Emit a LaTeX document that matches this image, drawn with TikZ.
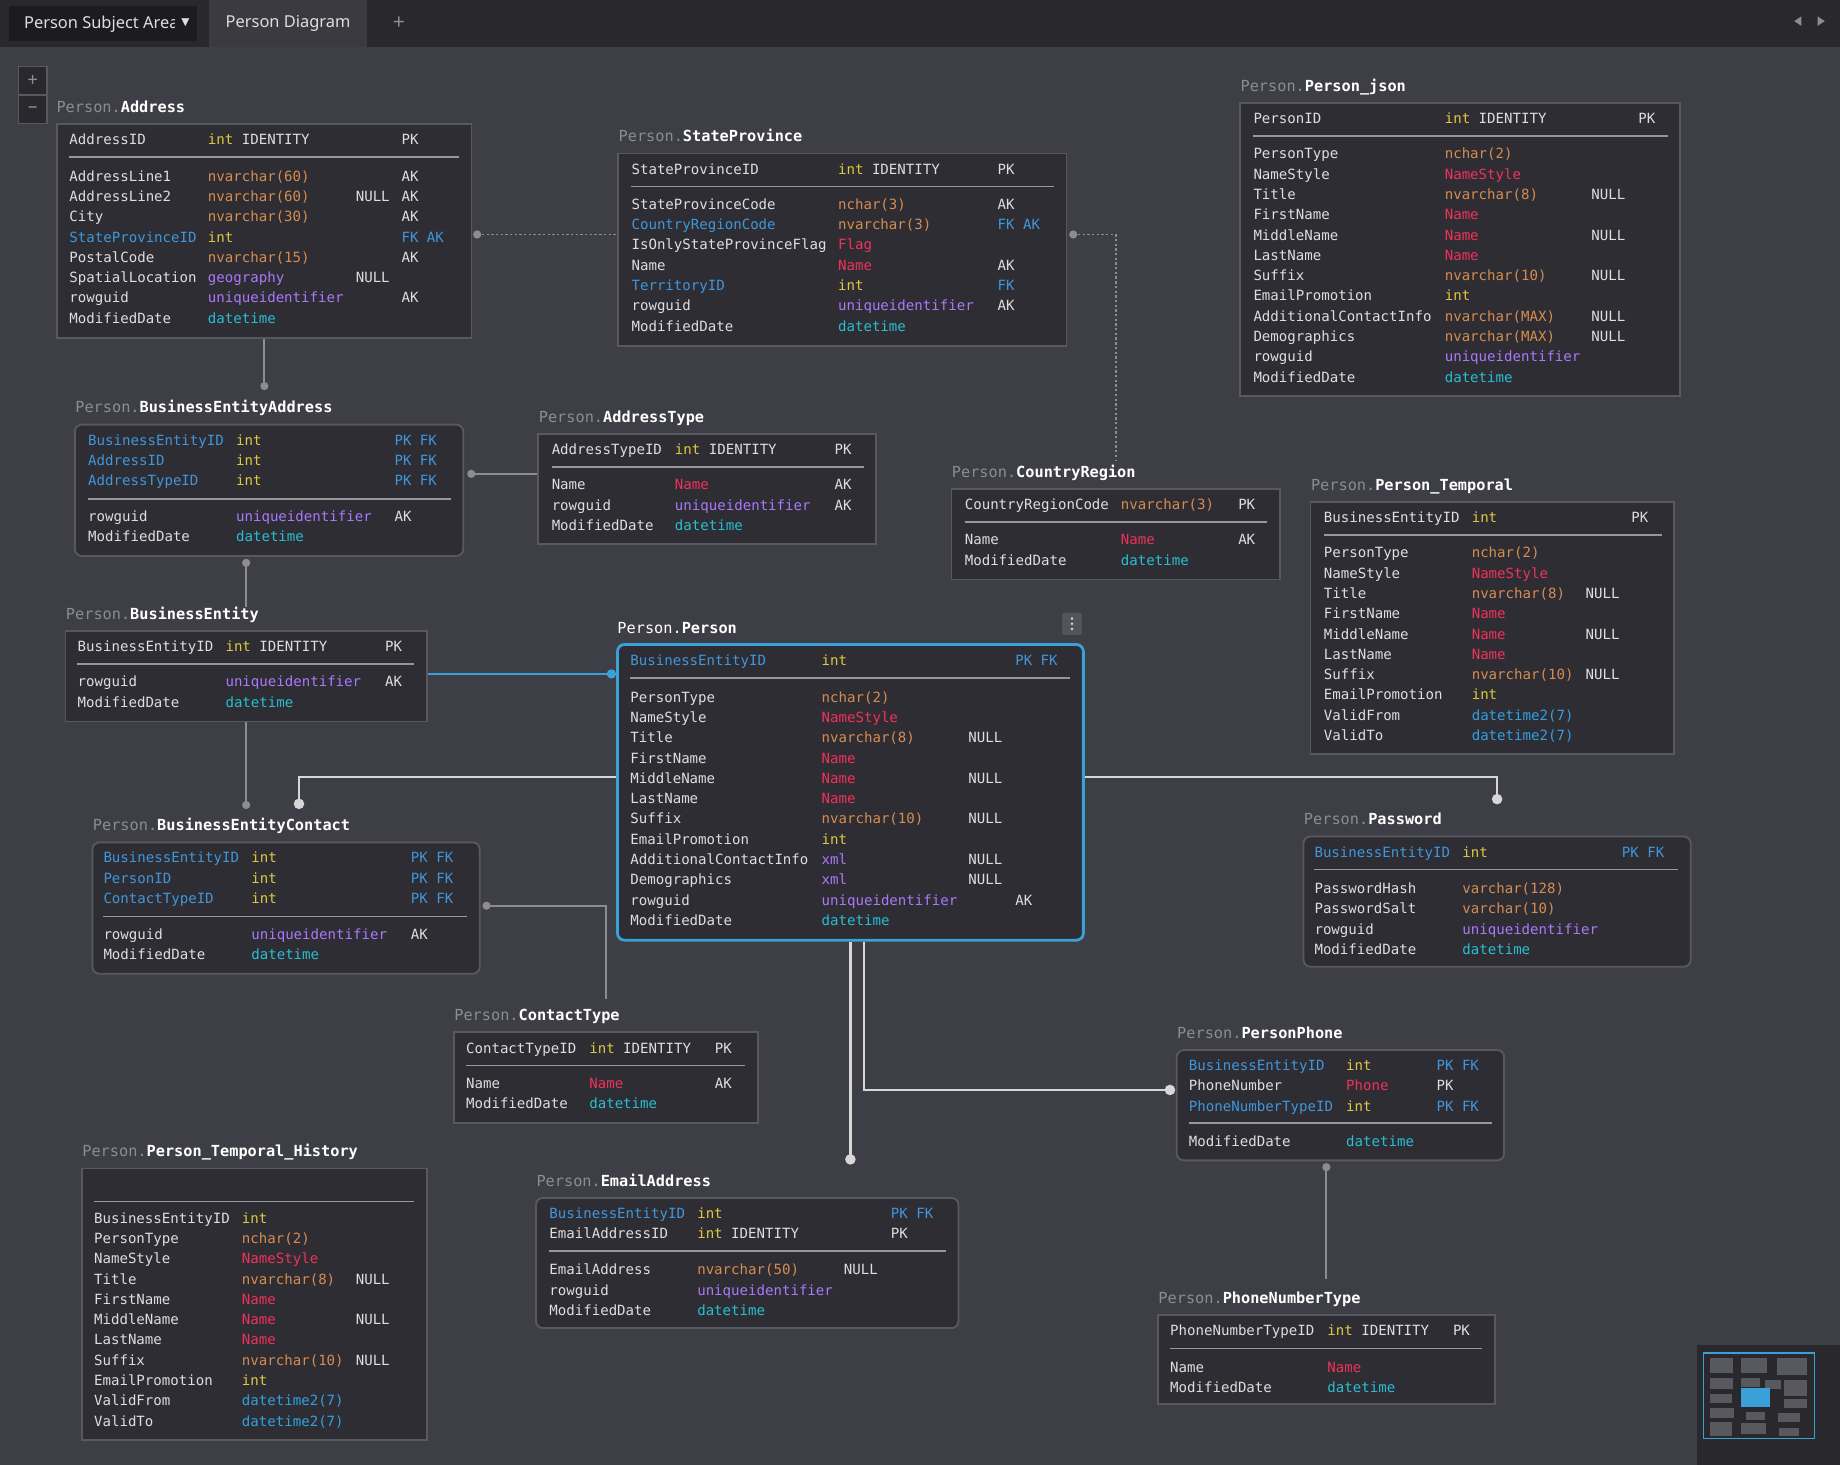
\documentclass[tikz,border=0pt]{standalone}
\usepackage{fontspec}
\setmainfont{Noto Sans}
\setmonofont{DejaVu Sans Mono}
\newfontfamily\symfont{DejaVu Sans}

\definecolor{canvas}{RGB}{62,62,70}
\definecolor{tabbar}{RGB}{40,40,45}
\definecolor{tabact}{RGB}{58,58,64}
\definecolor{ddbox}{RGB}{28,28,32}
\definecolor{btnc}{RGB}{84,84,92}
\definecolor{boxfill}{RGB}{45,45,51}
\definecolor{boxline}{RGB}{88,88,95}
\definecolor{rulec}{RGB}{150,150,155}
\definecolor{linkc}{RGB}{140,140,146}
\definecolor{hotc}{RGB}{215,215,215}
\definecolor{selblue}{RGB}{58,160,216}
\definecolor{txt}{RGB}{222,222,222}
\definecolor{kpre}{RGB}{140,140,148}
\definecolor{kfk}{RGB}{64,150,220}
\definecolor{kint}{RGB}{222,200,64}
\definecolor{kchar}{RGB}{214,140,80}
\definecolor{kname}{RGB}{240,50,90}
\definecolor{kuid}{RGB}{170,120,250}
\definecolor{kdate}{RGB}{40,190,210}
\definecolor{kdateii}{RGB}{50,160,225}

\newcommand\kPre[1]{\textcolor{kpre}{#1}}
\newcommand\kFK[1]{\textcolor{kfk}{#1}}
\newcommand\kInt[1]{\textcolor{kint}{#1}}
\newcommand\kChar[1]{\textcolor{kchar}{#1}}
\newcommand\kName[1]{\textcolor{kname}{#1}}
\newcommand\kUid[1]{\textcolor{kuid}{#1}}
\newcommand\kDate[1]{\textcolor{kdate}{#1}}
\newcommand\kDateII[1]{\textcolor{kdateii}{#1}}

% one table row: name, index, column, type, null, key
\newcommand\erow[6]{%
  \pgfmathsetmacro\rowyy{\rowY+17.3*#2}%
  \node[cell] (#1a) at (\colA,\rowyy) {#3};
  \node[cell] (#1b) at (\colB,\rowyy) {#4};
  \node[cell] (#1c) at (\colC,\rowyy) {#5};
  \node[cell] (#1d) at (\colD,\rowyy) {#6};}

\begin{document}
\begin{tikzpicture}[x=1pt,y=-1pt,
  tbox/.style={draw=boxline, fill=boxfill, line width=1.6pt, anchor=north west, inner sep=0pt},
  rbox/.style={tbox, rounded corners=6pt},
  selbox/.style={tbox, rounded corners=6pt, draw=selblue, line width=2.4pt},
  cell/.style={anchor=west, inner sep=0pt, text height=8.7pt, text depth=0pt, font=\fontsize{12}{12}\selectfont\ttfamily, text=txt},
  ttl/.style={anchor=west, inner sep=0pt, text height=9.5pt, text depth=0pt, font=\fontsize{13}{13}\selectfont\ttfamily, text=white},
  hrule/.style={draw=rulec, line width=1.4pt},
  link/.style={draw=linkc, line width=1.6pt},
  hot/.style={draw=hotc, line width=2pt},
  weak/.style={draw=linkc, line width=1.4pt, dash pattern=on 2pt off 2pt},
  knob/.style={fill=linkc},
  hotknob/.style={fill=hotc}]
\useasboundingbox (0,0) rectangle (1568,1248);
\fill[canvas] (0,0) rectangle (1568,1248);

% tab bar
\fill[tabbar] (0,0) rectangle (1568,40);
\fill[ddbox] (8,5) rectangle (168,35);
\begin{scope}
\clip (8,5) rectangle (149,35);
\node[anchor=west, text=txt, font=\fontsize{14}{14}\selectfont] (tabArea) at (17,21) {Person Subject Area};
\end{scope}
\node[text=txt, font=\fontsize{9}{9}\symfont] (tabDrop) at (158,19) {▼};
\fill[tabact] (178,0) rectangle (313,40);
\node[text=txt, font=\fontsize{14}{14}\selectfont] (tabDiag) at (245.5,20) {Person Diagram};
\node[text=kpre, font=\fontsize{18}{18}\selectfont] (tabPlus) at (340,20) {+};
\fill[kpre] (1529,18) -- (1535,14) -- (1535,22) -- cycle;
\fill[kpre] (1555,18) -- (1549,14) -- (1549,22) -- cycle;

% zoom buttons
\path[draw=boxline, fill=tabbar, line width=1pt] (16,57) rectangle (40,105);
\path[draw=boxline, line width=1pt] (16,81) -- (40,81);
\node[text=kpre, font=\fontsize{16}{16}\selectfont] (zoomIn) at (28,69) {+};
\node[text=kpre, font=\fontsize{16}{16}\selectfont] (zoomOut) at (28,93) {–};

% Person.Address
\def\colA{59}\def\colB{177}\def\colC{303}\def\colD{342}
\node[tbox, minimum width=353pt, minimum height=182pt] (addr) at (48,105) {};
\node[ttl] (addrT) at (48,91) {\kPre{Person.}\textbf{Address}};
\def\rowY{119}
\erow{addr0}{0}{AddressID}{\kInt{int} IDENTITY}{}{PK}
\path[hrule] (59,134) -- (391,134);
\def\rowY{150}
\erow{addr1}{0}{AddressLine1}{\kChar{nvarchar(60)}}{}{AK}
\erow{addr2}{1}{AddressLine2}{\kChar{nvarchar(60)}}{NULL}{AK}
\erow{addr3}{2}{City}{\kChar{nvarchar(30)}}{}{AK}
\erow{addr4}{3}{\kFK{StateProvinceID}}{\kInt{int}}{}{\kFK{FK AK}}
\erow{addr5}{4}{PostalCode}{\kChar{nvarchar(15)}}{}{AK}
\erow{addr6}{5}{SpatialLocation}{\kUid{geography}}{NULL}{}
\erow{addr7}{6}{rowguid}{\kUid{uniqueidentifier}}{}{AK}
\erow{addr8}{7}{ModifiedDate}{\kDate{datetime}}{}{}

% Person.StateProvince
\def\colA{538}\def\colB{714}\def\colC{800}\def\colD{850}
\node[tbox, minimum width=382pt, minimum height=164pt] (sp) at (526,130) {};
\node[ttl] (spT) at (527,116) {\kPre{Person.}\textbf{StateProvince}};
\def\rowY{144}
\erow{sp0}{0}{StateProvinceID}{\kInt{int} IDENTITY}{}{PK}
\path[hrule] (538,159) -- (898,159);
\def\rowY{174}
\erow{sp1}{0}{StateProvinceCode}{\kChar{nchar(3)}}{}{AK}
\erow{sp2}{1}{\kFK{CountryRegionCode}}{\kChar{nvarchar(3)}}{}{\kFK{FK AK}}
\erow{sp3}{2}{IsOnlyStateProvinceFlag}{\kName{Flag}}{}{}
\erow{sp4}{3}{Name}{\kName{Name}}{}{AK}
\erow{sp5}{4}{\kFK{TerritoryID}}{\kInt{int}}{}{\kFK{FK}}
\erow{sp6}{5}{rowguid}{\kUid{uniqueidentifier}}{}{AK}
\erow{sp7}{6}{ModifiedDate}{\kDate{datetime}}{}{}

% Person.Person_json
\def\colA{1068}\def\colB{1231}\def\colC{1356}\def\colD{1396}
\node[tbox, minimum width=375pt, minimum height=250pt] (pjson) at (1056,87) {};
\node[ttl] (pjsonT) at (1057,73) {\kPre{Person.}\textbf{Person\_json}};
\def\rowY{101}
\erow{pj0}{0}{PersonID}{\kInt{int} IDENTITY}{}{PK}
\path[hrule] (1068,116) -- (1421,116);
\def\rowY{131}
\erow{pj1}{0}{PersonType}{\kChar{nchar(2)}}{}{}
\erow{pj2}{1}{NameStyle}{\kName{NameStyle}}{}{}
\erow{pj3}{2}{Title}{\kChar{nvarchar(8)}}{NULL}{}
\erow{pj4}{3}{FirstName}{\kName{Name}}{}{}
\erow{pj5}{4}{MiddleName}{\kName{Name}}{NULL}{}
\erow{pj6}{5}{LastName}{\kName{Name}}{}{}
\erow{pj7}{6}{Suffix}{\kChar{nvarchar(10)}}{NULL}{}
\erow{pj8}{7}{EmailPromotion}{\kInt{int}}{}{}
\erow{pj9}{8}{AdditionalContactInfo}{\kChar{nvarchar(MAX)}}{NULL}{}
\erow{pj10}{9}{Demographics}{\kChar{nvarchar(MAX)}}{NULL}{}
\erow{pj11}{10}{rowguid}{\kUid{uniqueidentifier}}{}{}
\erow{pj12}{11}{ModifiedDate}{\kDate{datetime}}{}{}

% Person.BusinessEntityAddress
\def\colA{75}\def\colB{201}\def\colC{300}\def\colD{336}
\node[rbox, minimum width=331pt, minimum height=112pt] (bea) at (63,361) {};
\node[ttl] (beaTt) at (64,347) {\kPre{Person.}\textbf{BusinessEntityAddress}};
\def\rowY{375}
\erow{bea0}{0}{\kFK{BusinessEntityID}}{\kInt{int}}{}{\kFK{PK FK}}
\erow{bea1}{1}{\kFK{AddressID}}{\kInt{int}}{}{\kFK{PK FK}}
\erow{bea2}{2}{\kFK{AddressTypeID}}{\kInt{int}}{}{\kFK{PK FK}}
\path[hrule] (75,425) -- (384,425);
\def\rowY{440}
\erow{bea3}{0}{rowguid}{\kUid{uniqueidentifier}}{}{AK}
\erow{bea4}{1}{ModifiedDate}{\kDate{datetime}}{}{}

% Person.AddressType
\def\colA{470}\def\colB{575}\def\colC{680}\def\colD{711}
\node[tbox, minimum width=288pt, minimum height=94pt] (adt) at (458,369) {};
\node[ttl] (adtT) at (459,355) {\kPre{Person.}\textbf{AddressType}};
\def\rowY{383}
\erow{adt0}{0}{AddressTypeID}{\kInt{int} IDENTITY}{}{PK}
\path[hrule] (470,398) -- (736,398);
\def\rowY{413}
\erow{adt1}{0}{Name}{\kName{Name}}{}{AK}
\erow{adt2}{1}{rowguid}{\kUid{uniqueidentifier}}{}{AK}
\erow{adt3}{2}{ModifiedDate}{\kDate{datetime}}{}{}

% Person.CountryRegion
\def\colA{822}\def\colB{955}\def\colC{1020}\def\colD{1055}
\node[tbox, minimum width=280pt, minimum height=77pt] (cr) at (810,416) {};
\node[ttl] (crT) at (811,402) {\kPre{Person.}\textbf{CountryRegion}};
\def\rowY{430}
\erow{cr0}{0}{CountryRegionCode}{\kChar{nvarchar(3)}}{}{PK}
\path[hrule] (822,445) -- (1080,445);
\def\rowY{460}
\erow{cr1}{0}{Name}{\kName{Name}}{}{AK}
\erow{cr2}{1}{ModifiedDate}{\kDate{datetime}}{}{}

% Person.Person_Temporal
\def\colA{1128}\def\colB{1254}\def\colC{1351}\def\colD{1390}
\node[tbox, minimum width=310pt, minimum height=215pt] (ptemp) at (1116,427) {};
\node[ttl] (ptempT) at (1117,413) {\kPre{Person.}\textbf{Person\_Temporal}};
\def\rowY{441}
\erow{pt0}{0}{BusinessEntityID}{\kInt{int}}{}{PK}
\path[hrule] (1128,456) -- (1416,456);
\def\rowY{471}
\erow{pt1}{0}{PersonType}{\kChar{nchar(2)}}{}{}
\erow{pt2}{1}{NameStyle}{\kName{NameStyle}}{}{}
\erow{pt3}{2}{Title}{\kChar{nvarchar(8)}}{NULL}{}
\erow{pt4}{3}{FirstName}{\kName{Name}}{}{}
\erow{pt5}{4}{MiddleName}{\kName{Name}}{NULL}{}
\erow{pt6}{5}{LastName}{\kName{Name}}{}{}
\erow{pt7}{6}{Suffix}{\kChar{nvarchar(10)}}{NULL}{}
\erow{pt8}{7}{EmailPromotion}{\kInt{int}}{}{}
\erow{pt9}{8}{ValidFrom}{\kDateII{datetime2(7)}}{}{}
\erow{pt10}{9}{ValidTo}{\kDateII{datetime2(7)}}{}{}

% Person.BusinessEntity
\def\colA{66}\def\colB{192}\def\colC{290}\def\colD{328}
\node[tbox, minimum width=308pt, minimum height=77pt] (be) at (55,537) {};
\node[ttl] (beT) at (56,523) {\kPre{Person.}\textbf{BusinessEntity}};
\def\rowY{551}
\erow{be0}{0}{BusinessEntityID}{\kInt{int} IDENTITY}{}{PK}
\path[hrule] (66,566) -- (353,566);
\def\rowY{581}
\erow{be1}{0}{rowguid}{\kUid{uniqueidentifier}}{}{AK}
\erow{be2}{1}{ModifiedDate}{\kDate{datetime}}{}{}

% Person.Person
\def\colA{537}\def\colB{700}\def\colC{825}\def\colD{865}
\node[selbox, minimum width=397pt, minimum height=252pt] (per) at (525,548) {};
\node[ttl] (perT) at (526,535) {Person.\textbf{Person}};
\def\rowY{563}
\erow{per0}{0}{\kFK{BusinessEntityID}}{\kInt{int}}{}{\kFK{PK FK}}
\path[hrule] (537,578) -- (912,578);
\def\rowY{594}
\erow{per1}{0}{PersonType}{\kChar{nchar(2)}}{}{}
\erow{per2}{1}{NameStyle}{\kName{NameStyle}}{}{}
\erow{per3}{2}{Title}{\kChar{nvarchar(8)}}{NULL}{}
\erow{per4}{3}{FirstName}{\kName{Name}}{}{}
\erow{per5}{4}{MiddleName}{\kName{Name}}{NULL}{}
\erow{per6}{5}{LastName}{\kName{Name}}{}{}
\erow{per7}{6}{Suffix}{\kChar{nvarchar(10)}}{NULL}{}
\erow{per8}{7}{EmailPromotion}{\kInt{int}}{}{}
\erow{per9}{8}{AdditionalContactInfo}{\kUid{xml}}{NULL}{}
\erow{per10}{9}{Demographics}{\kUid{xml}}{NULL}{}
\erow{per11}{10}{rowguid}{\kUid{uniqueidentifier}}{}{AK}
\erow{per12}{11}{ModifiedDate}{\kDate{datetime}}{}{}
\path[fill=btnc, rounded corners=2pt] (905,522) rectangle (922,541);
\foreach \dy in {527,531.5,536} \fill[txt] (913.5,\dy) circle (1.2pt);

% Person.BusinessEntityContact
\def\colA{88}\def\colB{214}\def\colC{300}\def\colD{350}
\node[rbox, minimum width=330pt, minimum height=112pt] (bec) at (78,717) {};
\node[ttl] (becTt) at (79,703) {\kPre{Person.}\textbf{BusinessEntityContact}};
\def\rowY{731}
\erow{bec0}{0}{\kFK{BusinessEntityID}}{\kInt{int}}{}{\kFK{PK FK}}
\erow{bec1}{1}{\kFK{PersonID}}{\kInt{int}}{}{\kFK{PK FK}}
\erow{bec2}{2}{\kFK{ContactTypeID}}{\kInt{int}}{}{\kFK{PK FK}}
\path[hrule] (88,781) -- (398,781);
\def\rowY{796}
\erow{bec3}{0}{rowguid}{\kUid{uniqueidentifier}}{}{AK}
\erow{bec4}{1}{ModifiedDate}{\kDate{datetime}}{}{}

% Person.ContactType
\def\colA{397}\def\colB{502}\def\colC{570}\def\colD{609}
\node[tbox, minimum width=259pt, minimum height=77pt] (ct) at (386,879) {};
\node[ttl] (ctT) at (387,865) {\kPre{Person.}\textbf{ContactType}};
\def\rowY{893}
\erow{ct0}{0}{ContactTypeID}{\kInt{int} IDENTITY}{}{PK}
\path[hrule] (397,908) -- (635,908);
\def\rowY{923}
\erow{ct1}{0}{Name}{\kName{Name}}{}{AK}
\erow{ct2}{1}{ModifiedDate}{\kDate{datetime}}{}{}

% Person.Password
\def\colA{1120}\def\colB{1246}\def\colC{1330}\def\colD{1382}
\node[rbox, minimum width=330pt, minimum height=111pt] (pw) at (1110,712) {};
\node[ttl] (pwT) at (1111,698) {\kPre{Person.}\textbf{Password}};
\def\rowY{726}
\erow{pw0}{0}{\kFK{BusinessEntityID}}{\kInt{int}}{}{\kFK{PK FK}}
\path[hrule] (1120,741) -- (1430,741);
\def\rowY{757}
\erow{pw1}{0}{PasswordHash}{\kChar{varchar(128)}}{}{}
\erow{pw2}{1}{PasswordSalt}{\kChar{varchar(10)}}{}{}
\erow{pw3}{2}{rowguid}{\kUid{uniqueidentifier}}{}{}
\erow{pw4}{3}{ModifiedDate}{\kDate{datetime}}{}{}

% Person.PersonPhone
\def\colA{1013}\def\colB{1147}\def\colC{1200}\def\colD{1224}
\node[rbox, minimum width=279pt, minimum height=94pt] (pp) at (1002,894) {};
\node[ttl] (ppT) at (1003,880) {\kPre{Person.}\textbf{PersonPhone}};
\def\rowY{908}
\erow{pp0}{0}{\kFK{BusinessEntityID}}{\kInt{int}}{}{\kFK{PK FK}}
\erow{pp1}{1}{PhoneNumber}{\kName{Phone}}{}{PK}
\erow{pp2}{2}{\kFK{PhoneNumberTypeID}}{\kInt{int}}{}{\kFK{PK FK}}
\path[hrule] (1013,957) -- (1271,957);
\def\rowY{973}
\erow{pp3}{0}{ModifiedDate}{\kDate{datetime}}{}{}

% Person.Person_Temporal_History
\def\colA{80}\def\colB{206}\def\colC{303}\def\colD{340}
\node[tbox, minimum width=294pt, minimum height=231pt] (pth) at (69,995) {};
\node[ttl] (pthT) at (70,981) {\kPre{Person.}\textbf{Person\_Temporal\_History}};
\path[hrule] (80,1024) -- (353,1024);
\def\rowY{1038}
\erow{pth1}{0}{BusinessEntityID}{\kInt{int}}{}{}
\erow{pth2}{1}{PersonType}{\kChar{nchar(2)}}{}{}
\erow{pth3}{2}{NameStyle}{\kName{NameStyle}}{}{}
\erow{pth4}{3}{Title}{\kChar{nvarchar(8)}}{NULL}{}
\erow{pth5}{4}{FirstName}{\kName{Name}}{}{}
\erow{pth6}{5}{MiddleName}{\kName{Name}}{NULL}{}
\erow{pth7}{6}{LastName}{\kName{Name}}{}{}
\erow{pth8}{7}{Suffix}{\kChar{nvarchar(10)}}{NULL}{}
\erow{pth9}{8}{EmailPromotion}{\kInt{int}}{}{}
\erow{pth10}{9}{ValidFrom}{\kDateII{datetime2(7)}}{}{}
\erow{pth11}{10}{ValidTo}{\kDateII{datetime2(7)}}{}{}

% Person.EmailAddress
\def\colA{468}\def\colB{594}\def\colC{719}\def\colD{759}
\node[rbox, minimum width=360pt, minimum height=111pt] (ea) at (456,1020) {};
\node[ttl] (eaT) at (457,1006) {\kPre{Person.}\textbf{EmailAddress}};
\def\rowY{1034}
\erow{ea0}{0}{\kFK{BusinessEntityID}}{\kInt{int}}{}{\kFK{PK FK}}
\erow{ea1}{1}{EmailAddressID}{\kInt{int} IDENTITY}{}{PK}
\path[hrule] (468,1066) -- (806,1066);
\def\rowY{1082}
\erow{ea2}{0}{EmailAddress}{\kChar{nvarchar(50)}}{NULL}{}
\erow{ea3}{1}{rowguid}{\kUid{uniqueidentifier}}{}{}
\erow{ea4}{2}{ModifiedDate}{\kDate{datetime}}{}{}

% Person.PhoneNumberType
\def\colA{997}\def\colB{1131}\def\colC{1200}\def\colD{1238}
\node[tbox, minimum width=287pt, minimum height=76pt] (pnt) at (986,1120) {};
\node[ttl] (pntT) at (987,1106) {\kPre{Person.}\textbf{PhoneNumberType}};
\def\rowY{1134}
\erow{pnt0}{0}{PhoneNumberTypeID}{\kInt{int} IDENTITY}{}{PK}
\path[hrule] (997,1149) -- (1263,1149);
\def\rowY{1165}
\erow{pnt1}{0}{Name}{\kName{Name}}{}{}
\erow{pnt2}{1}{ModifiedDate}{\kDate{datetime}}{}{}

% relations
\coordinate (addrP) at ([xshift=4pt,yshift=-3pt]addr.east);
\path[weak] (addrP) -- (addrP -| sp.west);
\fill[knob] (addrP) circle (3.5pt);
\coordinate (spP) at ([xshift=5pt]sp.east |- addrP);
\path[weak] (spP) -| ([yshift=24pt]cr.north);
\fill[knob] (spP) circle (3.5pt);
\coordinate (beaTop) at ([yshift=32pt]bea.north -| addr.south);
\path[link] (addr.south) -- (beaTop);
\fill[knob] (beaTop) circle (3.5pt);
\coordinate (beaR) at ([xshift=6pt,yshift=14pt]bea.east);
\path[link] (beaR) -- (beaR -| adt.west);
\fill[knob] (beaR) circle (3.5pt);
\coordinate (beaB) at ([yshift=-5pt]bea.south -| be.north);
\path[link] (beaB) -- ([yshift=20pt]be.north);
\fill[knob] (beaB) circle (3.5pt);
\coordinate (beR) at ([yshift=2pt]be.east);
\coordinate (perL) at ([xshift=-4pt]per.west |- beR);
\path[draw=selblue, line width=2pt] (beR) -- (beR -| per.west);
\fill[selblue] (perL) circle (4pt);
\coordinate (becTop) at ([yshift=31pt]bec.north -| be.south);
\path[link] (be.south) -- (becTop);
\fill[knob] (becTop) circle (3.5pt);
\coordinate (becTop2) at ([xshift=11pt,yshift=32pt]bec.north);
\path[hot] ([yshift=13pt]per.west) -| (becTop2);
\fill[hotknob] (becTop2) circle (4.5pt);
\coordinate (becR) at ([xshift=5pt,yshift=2pt]bec.east);
\path[link] (becR) -| ([yshift=28pt]ct.north);
\fill[knob] (becR) circle (3.5pt);
\coordinate (pwTop) at ([yshift=31pt]pw.north);
\path[hot] ([yshift=13pt]per.east) -| (pwTop);
\fill[hotknob] (pwTop) circle (4.5pt);
\coordinate (ppL) at ([xshift=-5pt,yshift=13pt]pp.west);
\path[hot] ([xshift=11.5pt]per.south) |- (ppL);
\fill[hotknob] (ppL) circle (4.5pt);
\coordinate (eaTop) at ([yshift=32pt]ea.north -| per.south);
\path[hot] (per.south) -- (eaTop);
\fill[hotknob] (eaTop) circle (4.5pt);
\coordinate (ppB) at ([yshift=-5pt]pp.south -| pnt.north);
\path[link] (ppB) -- ([yshift=30pt]pnt.north);
\fill[knob] (ppB) circle (3.5pt);

% minimap
\fill[tabbar] (1446,1146) rectangle (1568,1248);
\path[draw=selblue, line width=1pt] (1452,1153) rectangle (1546,1226);
\foreach \a/\b/\c/\d in {1457/1157/1477/1170, 1484/1157/1506/1170, 1514/1157/1540/1172,
  1457/1174/1477/1184, 1484/1174/1500/1182, 1504/1176/1518/1184, 1520/1176/1540/1190,
  1457/1188/1476/1196, 1520/1192/1540/1200, 1457/1200/1478/1208, 1488/1203/1504/1210,
  1515/1204/1534/1212, 1457/1212/1476/1224, 1484/1213/1505/1222, 1516/1217/1533/1224}
  \fill[boxline] (\a,\b) rectangle (\c,\d);
\fill[selblue] (1484,1183) rectangle (1508,1199);
\end{tikzpicture}
\end{document}
